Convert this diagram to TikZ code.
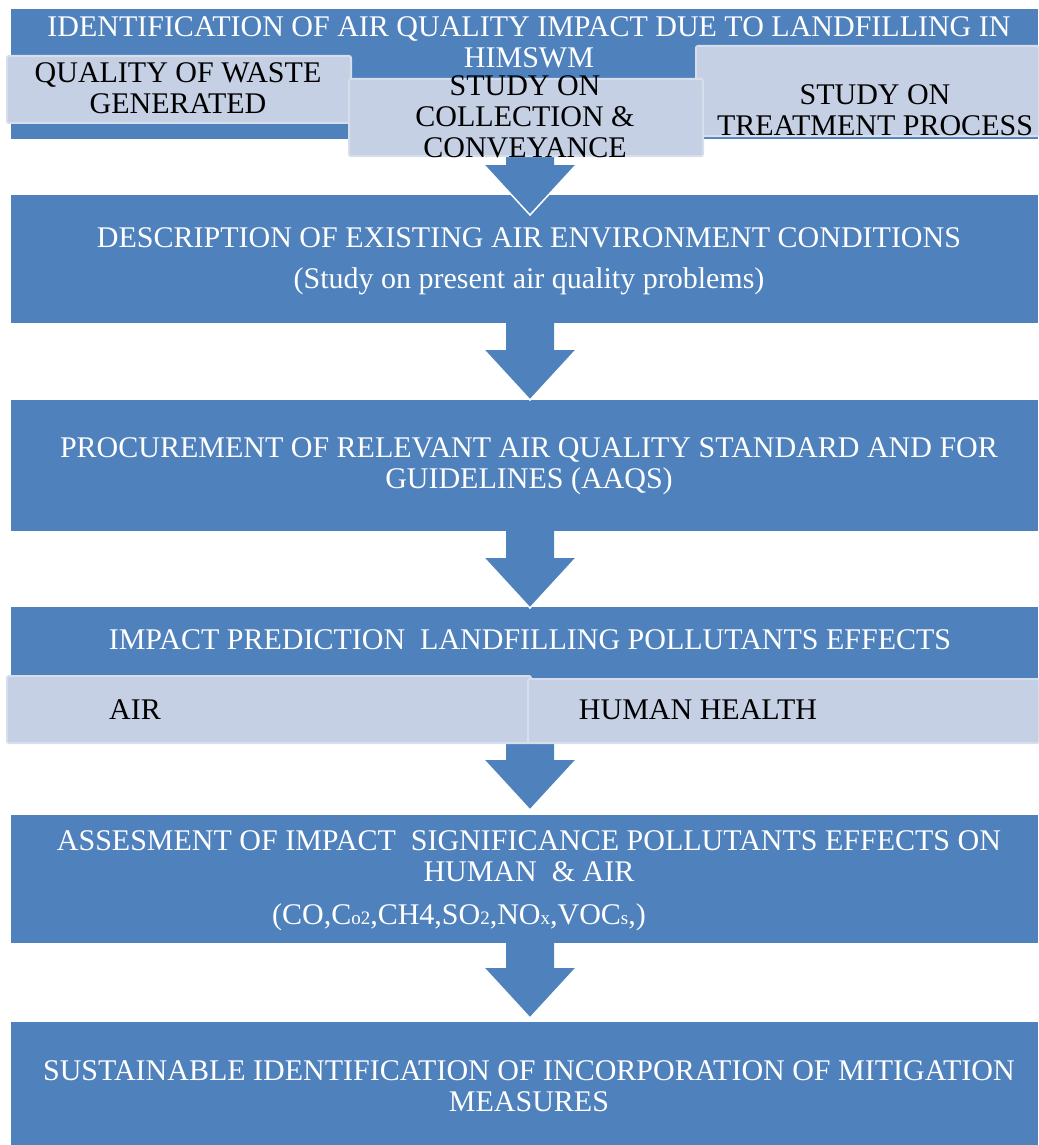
\documentclass[tikz,border=0pt]{standalone}
\usepackage{fontspec}
\setmainfont{Liberation Serif}
\definecolor{boxblue}{RGB}{79,129,189}
\definecolor{subfill}{RGB}{197,208,228}
\definecolor{subedge}{RGB}{214,222,236}
% small letters for the chemical formulas
\newcommand\chemsm[1]{{\fontsize{19}{19}\selectfont #1}}
% block arrow: shaft top coordinate, shaft length, tip coordinate (head is 50 long)
\newcommand\blockarrow[3]{%
  \fill[boxblue] (#1) ++(-24,0) -- ++(0,#2) -- ++(-22,0) -- (#3)
     -- ++(46,-50) -- ++(-22,0) -- ++(0,-#2) -- cycle;
  \draw[white, line width=1.5pt] (#3) ++(-46,-50) -- (#3) -- ++(46,-50);}
\begin{document}
\begin{tikzpicture}[x=1pt,y=-1pt,
  bluebox/.style={fill=boxblue, draw=none, inner sep=0pt, anchor=north west},
  subbox/.style={fill=subfill, draw=subedge, line width=2pt, rounded corners=2pt,
                 inner sep=0pt, anchor=north west},
  wtext/.style={text=white, align=center, inner sep=0pt,
                font=\fontsize{30}{31}\selectfont},
  btext/.style={text=black, align=center, inner sep=0pt,
                font=\fontsize{30}{31}\selectfont}]
\useasboundingbox (0,0) rectangle (1038,1145);

% main blue stages
\node[bluebox, minimum width=1027, minimum height=130] (s1) at (11,9) {};
\node[bluebox, minimum width=1027, minimum height=128] (s2) at (11,195) {};
\node[bluebox, minimum width=1027, minimum height=131] (s3) at (11,400) {};
\node[bluebox, minimum width=1027, minimum height=135] (s4) at (11,607) {};
\node[bluebox, minimum width=1027, minimum height=128] (s5) at (11,815) {};
\node[bluebox, minimum width=1027, minimum height=124] (s6) at (11,1022) {};

% arrow anchor points
\coordinate (a1top) at (530,139);  \coordinate (a1tip) at (530,215);
\coordinate (a2top) at (530,323);  \coordinate (a2tip) at (530,400);
\coordinate (a3top) at (530,531);  \coordinate (a3tip) at (530,608);
\coordinate (a4top) at (530,740);  \coordinate (a4tip) at (530,810);
\coordinate (a5top) at (530,943);  \coordinate (a5tip) at (530,1018);

\blockarrow{a1top}{26}{a1tip}
\blockarrow{a2top}{27}{a2tip}
\blockarrow{a3top}{27}{a3tip}
\blockarrow{a4top}{20}{a4tip}
\blockarrow{a5top}{25}{a5tip}

% sub-steps of the first stage
\node[subbox, minimum width=344, minimum height=67] (q1) at (6,55) {};
\node[subbox, minimum width=343, minimum height=90] (q3) at (695,45) {};
\node[subbox, minimum width=354, minimum height=77] (q2) at (348,78) {};

% sub-steps of the fourth stage
\node[subbox, minimum width=524, minimum height=67] (e1) at (6,675) {};
\node[subbox, minimum width=511, minimum height=64] (e2) at (527,678) {};

% texts
\node[wtext] (t1) at (529,42.5) {IDENTIFICATION OF AIR QUALITY IMPACT DUE TO LANDFILLING IN\\HIMSWM};
\node[btext] (tq1) at (178,88) {QUALITY OF WASTE\\GENERATED};
\node[btext] (tq2) at (525,116.5) {STUDY ON\\COLLECTION \&\\CONVEYANCE};
\node[btext] (tq3) at (875,110) {STUDY ON\\TREATMENT PROCESS};

\node[wtext] (t2a) at (529,238) {DESCRIPTION OF EXISTING AIR ENVIRONMENT CONDITIONS};
\node[wtext] (t2b) at (529,281) {(Study on present air quality problems)};

\node[wtext] (t3) at (529,466) {PROCUREMENT OF RELEVANT AIR QUALITY STANDARD AND FOR\\GUIDELINES (AAQS)};

\node[wtext] (t4) at (530,640) {IMPACT PREDICTION\ \ LANDFILLING POLLUTANTS EFFECTS};
\node[btext] (te1) at (135,710) {AIR};
\node[btext] (te2) at (698,710) {HUMAN HEALTH};

\node[wtext] (t5a) at (529,856) {ASSESMENT OF IMPACT\ \ SIGNIFICANCE POLLUTANTS EFFECTS ON\\HUMAN\ \ \& AIR};
\node[wtext] (t5b) at (459,917) {(CO,C\chemsm{o2},CH4,SO\chemsm{2},NO\chemsm{x},VOC\chemsm{s},)};

\node[wtext] (t6) at (529,1086) {SUSTAINABLE IDENTIFICATION OF INCORPORATION OF MITIGATION\\MEASURES};
\end{tikzpicture}
\end{document}
